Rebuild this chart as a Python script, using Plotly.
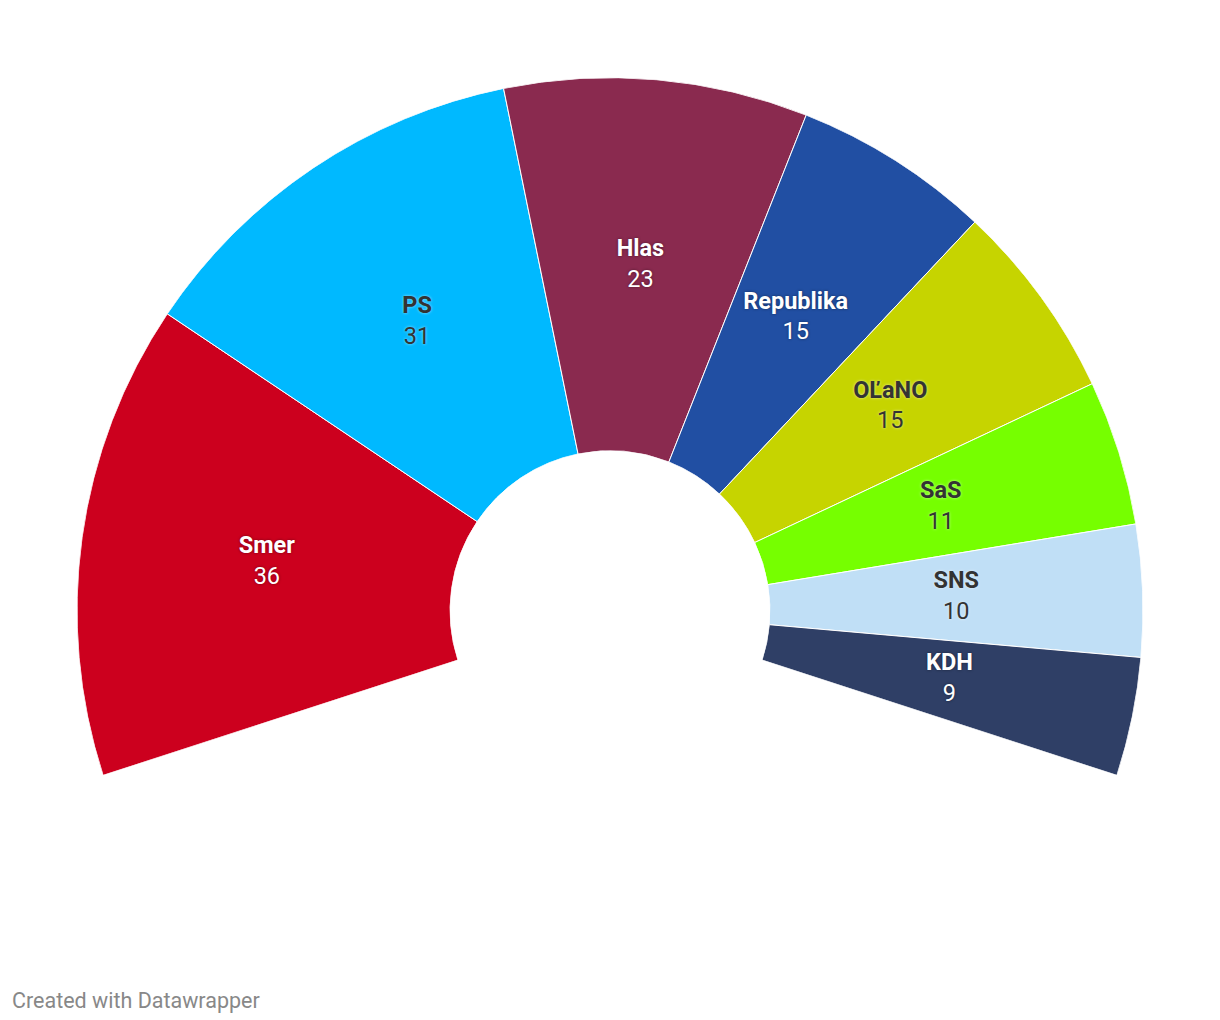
import plotly.graph_objects as go

parties = ["Smer", "PS", "Hlas", "Republika", "OĽaNO", "SaS", "SNS", "KDH"]
seats = [36, 31, 23, 15, 15, 11, 10, 9]
colors = ["#cc001e", "#00b9ff", "#8a2a4f", "#214fa3", "#c6d400", "#76ff00", "#c0dff6", "#2f3f66"]
label_colors = ["#ffffff", "#333333", "#ffffff", "#ffffff", "#333333", "#333333", "#333333", "#ffffff"]

SPAN = 216.0
total = sum(seats)
deg_per_seat = SPAN / total

widths = [s * deg_per_seat for s in seats]
centers = []
acc = 0.0
for w in widths:
    centers.append(acc + w / 2)
    acc += w

fig = go.Figure()
fig.add_trace(go.Barpolar(
    r=[1] * len(seats),
    theta=centers,
    width=widths,
    marker=dict(color=colors, line=dict(color="white", width=1)),
    hoverinfo="skip",
    showlegend=False,
))

for name, s, th, lc in zip(parties, seats, centers, label_colors):
    shadow = "0px 0px 3px rgba(0,0,0,0.45)" if lc == "#ffffff" else "0px 0px 3px rgba(255,255,255,0.6)"
    fig.add_trace(go.Scatterpolar(
        r=[0.5], theta=[th], mode="text",
        text=[f"<b>{name}</b><br>{s}"],
        textfont=dict(family="Roboto", size=23.5, color=lc, shadow=shadow),
        textposition="middle center",
        hoverinfo="skip", showlegend=False,
    ))

W, H = 1220, 1020
DX, DY = 8, 5  # page body margin compensation
fig.update_layout(
    width=W, height=H,
    margin=dict(l=0, r=0, t=0, b=0),
    paper_bgcolor="white", plot_bgcolor="white",
    font=dict(family="Roboto"),
    polar=dict(
        domain=dict(x=[(77 - DX) / W, (1143 - DX) / W], y=[1 - (773 - DY) / H, 1 - (74 - DY) / H]),
        sector=[-18, 198],
        hole=0.3,
        bgcolor="white",
        radialaxis=dict(range=[0, 1], visible=False, showgrid=False),
        angularaxis=dict(visible=False, showgrid=False, rotation=198, direction="clockwise"),
        barmode="overlay",
    ),
    annotations=[dict(
        text="Created with Datawrapper", x=(10 - DX) / W, y=1 - (997 - DY) / H,
        xref="paper", yref="paper", xanchor="left", yanchor="middle",
        showarrow=False, font=dict(family="Roboto", size=21.5, color="#888888"),
    )],
)

fig.write_html("out.html")
